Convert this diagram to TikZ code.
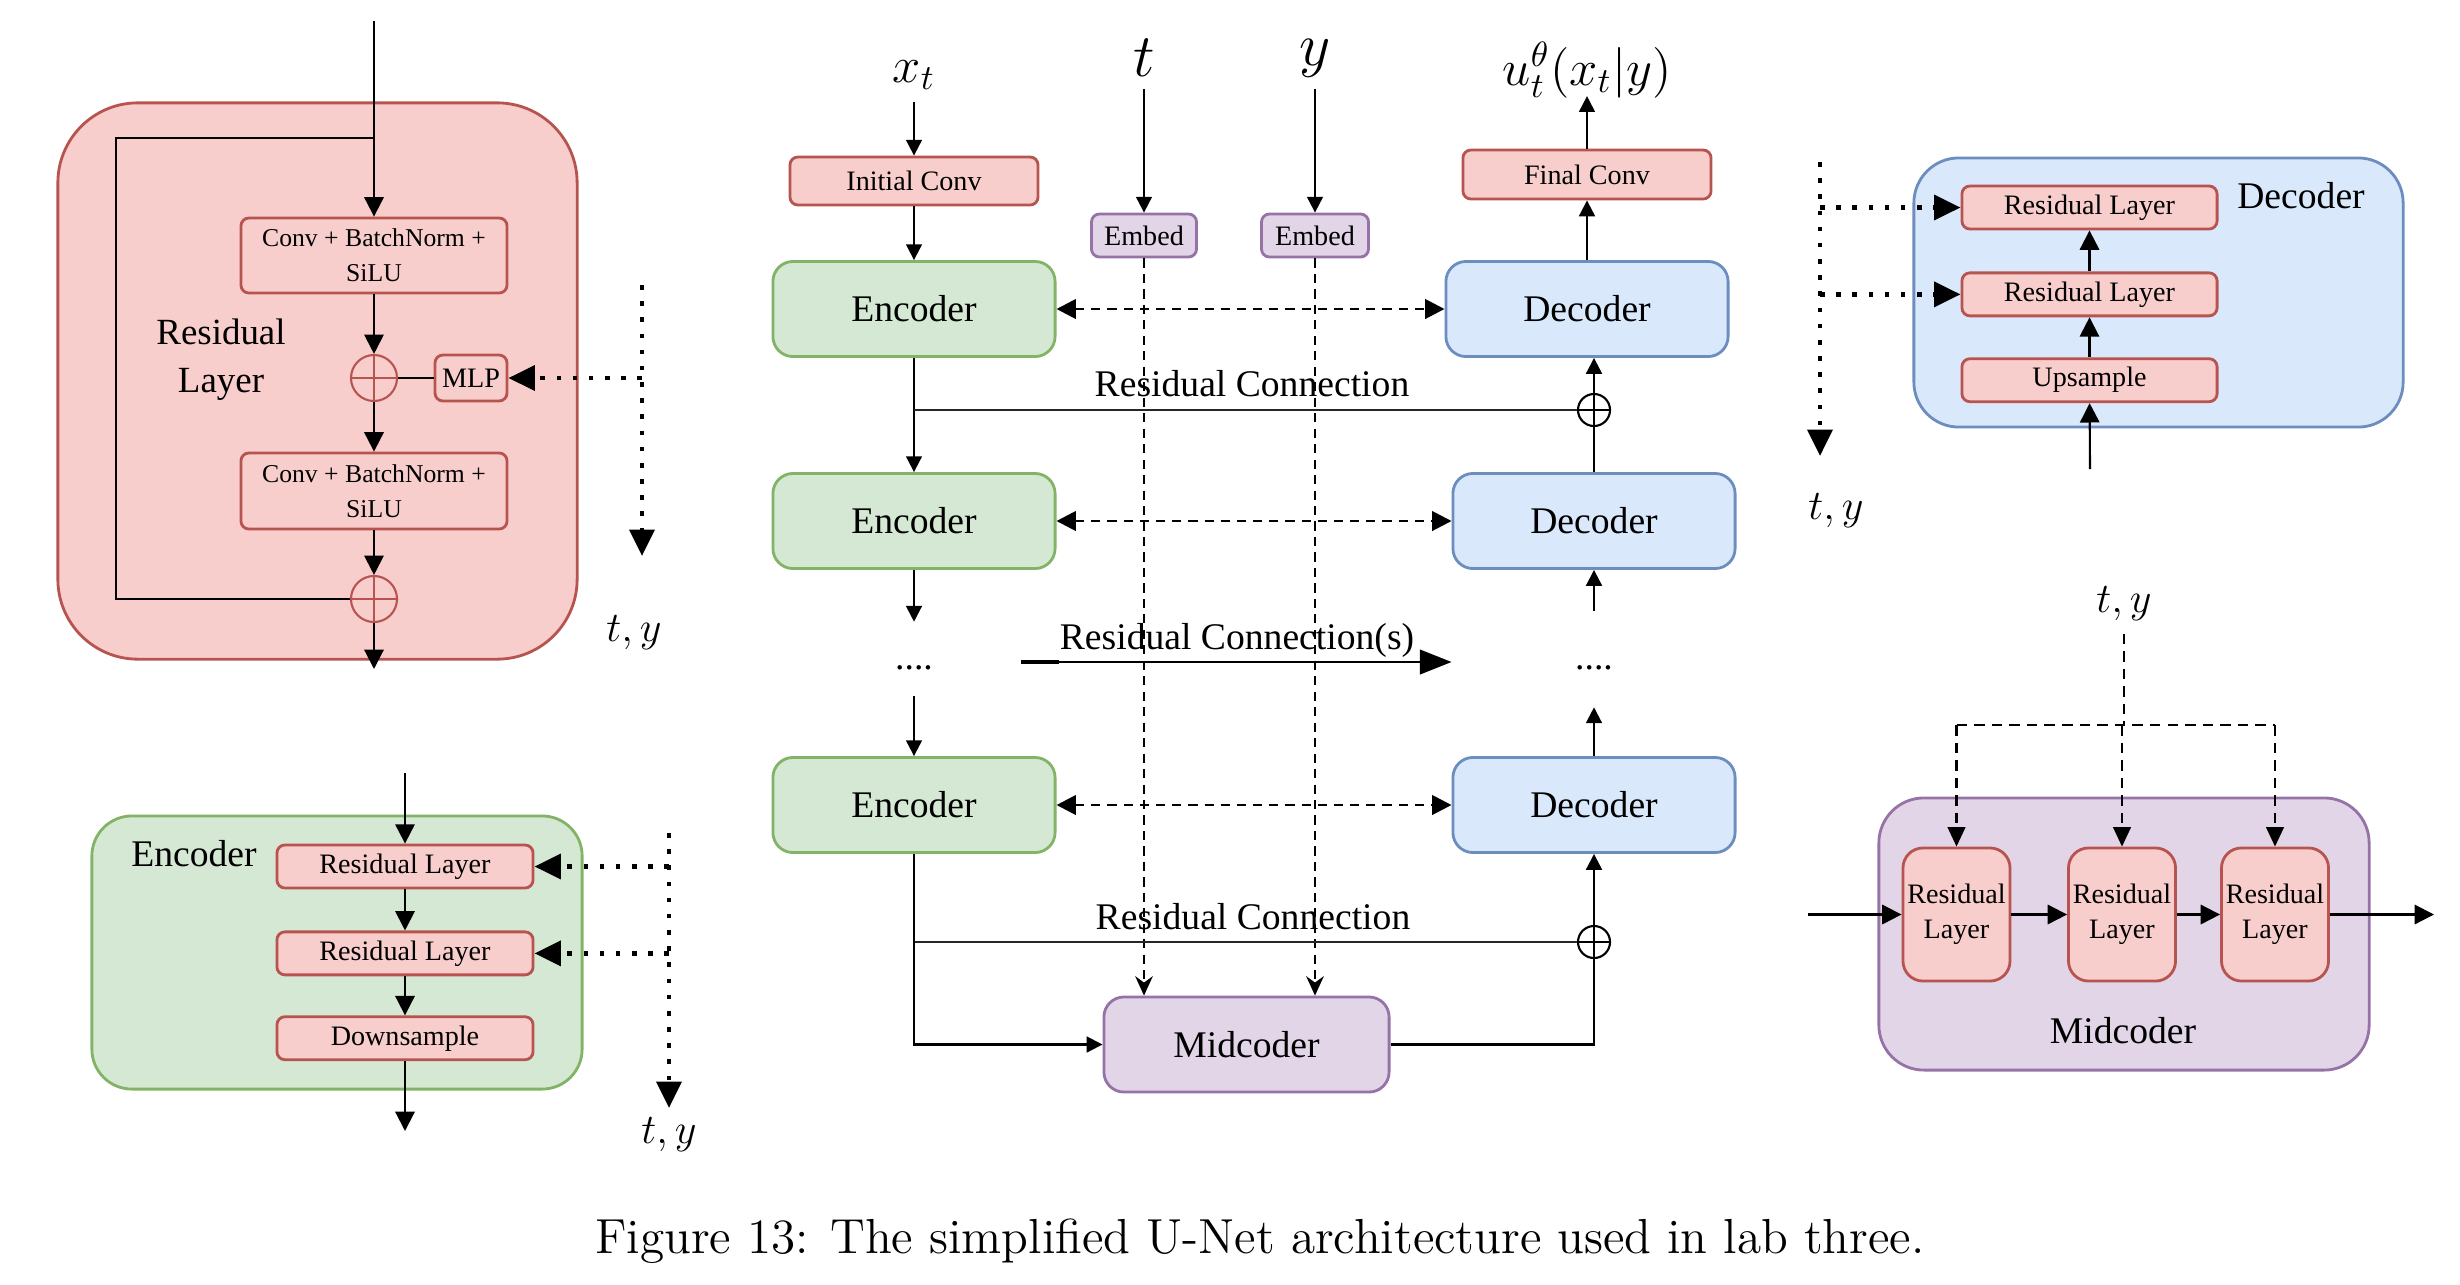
\documentclass[tikz,border=0pt]{standalone}
\usepackage{fontspec}
\newfontfamily\drawfont{Liberation Serif}
\usetikzlibrary{arrows.meta,positioning}
\definecolor{redfill}{HTML}{F8CECC}
\definecolor{redline}{HTML}{B85450}
\definecolor{greenfill}{HTML}{D5E8D4}
\definecolor{greenline}{HTML}{82B366}
\definecolor{bluefill}{HTML}{DAE8FC}
\definecolor{blueline}{HTML}{6C8EBF}
\definecolor{purplefill}{HTML}{E1D5E7}
\definecolor{purpleline}{HTML}{9673A6}
\tikzset{
    %Define standard arrow tip
    >={Triangle[length=4.5pt,width=4.5pt]},
    %Define style for the big blocks
    blok/.style={
           rectangle,
           rounded corners=0.2cm,
           line width=0.8pt,
           minimum width=2.82cm,
           minimum height=0.95cm,
           inner sep=0pt,
           font=\drawfont\fontsize{10.7}{12}\selectfont},
    encblok/.style={blok, draw=greenline, fill=greenfill},
    decblok/.style={blok, draw=blueline, fill=bluefill},
    midblok/.style={blok, draw=purpleline, fill=purplefill},
    %Define style for the small boxes
    lille/.style={
           rectangle,
           rounded corners=0.08cm,
           draw=redline, fill=redfill,
           line width=0.8pt,
           minimum height=0.43cm,
           inner sep=0pt,
           align=center,
           font=\drawfont\fontsize{8}{10}\selectfont},
    embedboks/.style={lille, draw=purpleline, fill=purplefill},
    %Define style for the panels
    panel/.style={
           rectangle,
           rounded corners=0.45cm,
           line width=0.8pt},
    %Define style for the sum circles
    sum/.style={
           circle,
           draw=#1,
           line width=0.6pt,
           inner sep=0pt,
           minimum size=0.32cm,
           path picture={\draw[#1, line width=0.6pt]
              (path picture bounding box.north) -- (path picture bounding box.south)
              (path picture bounding box.west) -- (path picture bounding box.east);}},
    sum/.default=black,
    % Define arrow styles
    pil/.style={->, line width=0.6pt},
    storpil/.style={-{Triangle[length=5.5pt,width=5.5pt]}, line width=0.6pt},
    resline/.style={line width=0.8pt, black!85},
    prik/.style={
           line width=1.3pt,
           dash pattern=on 1.3pt off 3.3pt,
           -{Triangle[length=7.5pt,width=7pt]}},
    stip/.style={
           line width=0.8pt,
           dash pattern=on 2.6pt off 2pt,
           {Triangle[length=5.5pt,width=5.5pt]}-{Triangle[length=5.5pt,width=5.5pt]}},
    embstip/.style={
           line width=0.6pt,
           dash pattern=on 2.6pt off 1.8pt,
           -{Stealth[length=5.5pt,width=5pt,inset=1.8pt]}},
    dsh/.style={line width=0.6pt, dash pattern=on 3pt off 2pt},
    lab/.style={align=center, font=\drawfont\fontsize{10.7}{13.6}\selectfont},
    symb/.style={font=\fontsize{12.5}{14}\selectfont}
}

\begin{document}
\begin{tikzpicture}[x=0.01cm, y=-0.01cm]
\useasboundingbox (0,0) rectangle (2460,1284);

%residual layer panel
\node[panel, draw=redline, fill=redfill, rounded corners=0.8cm, minimum width=5.19cm, minimum height=5.56cm] (respanel) at (317.5,381) {};
\node[lille, minimum width=2.66cm, minimum height=0.75cm, font=\drawfont\fontsize{7.3}{10}\selectfont] (conv1) at (374,255.5) {Conv + BatchNorm +\\SiLU};
\node[sum=redline, fill=redfill, minimum size=0.46cm] (sum1) at (374,378) {};
\node[lille, minimum width=0.72cm, minimum height=0.46cm] (mlp) at (471,378) {MLP};
\node[lille, minimum width=2.66cm, minimum height=0.76cm, font=\drawfont\fontsize{7.3}{10}\selectfont] (conv2) at (374,491) {Conv + BatchNorm +\\SiLU};
\node[sum=redline, fill=redfill, minimum size=0.46cm] (sum2) at (374,599) {};
\node[lab, font=\drawfont\fontsize{10.5}{13.6}\selectfont] (reslab) at (221,360) {Residual\\Layer};
\coordinate (resin) at (374,21);
\coordinate (skip) at (374,138);
\coordinate (resout) at (374,669);
\draw[storpil] (resin) -- (conv1);
\draw[line width=0.6pt] (skip) -- ++(-258,0) |- (sum2);
\draw[storpil] (conv1) -- (sum1);
\draw[line width=0.6pt] (sum1) -- (mlp);
\draw[storpil] (sum1) -- (conv2);
\draw[storpil] (conv2) -- (sum2);
\draw[storpil] (sum2) -- (resout);
%t, y into the MLP
\coordinate (ty1a) at (642,285);
\coordinate (ty1b) at (642,556);
\draw[prik] (ty1a) -- (ty1b);
\draw[prik] (ty1a |- mlp) -- (mlp);
\node[symb] (ty1) at (634,633) {$t, y$};

%encoder panel
\node[panel, draw=greenline, fill=greenfill, rounded corners=0.4cm, minimum width=4.9cm, minimum height=2.73cm] (encpanel) at (337,952.5) {};
\node[lille, minimum width=2.56cm] (erl1) at (405,866.5) {Residual Layer};
\node[lille, minimum width=2.56cm, below=0.41cm of erl1] (erl2) {Residual Layer};
\node[lille, minimum width=2.56cm, below=0.39cm of erl2] (downsamp) {Downsample};
\node[lab] (enclab) at (194,854) {Encoder};
\coordinate (encin) at (405,773);
\coordinate (encout) at (405,1131);
\draw[storpil] (encin) -- (erl1);
\draw[storpil] (erl1) -- (erl2);
\draw[storpil] (erl2) -- (downsamp);
\draw[storpil] (downsamp) -- (encout);
\coordinate (ty2a) at (669,833);
\coordinate (ty2b) at (669,1108);
\draw[prik] (ty2a) -- (ty2b);
\draw[prik] (ty2a |- erl1) -- (erl1);
\draw[prik] (ty2a |- erl2) -- (erl2);
\node[symb] (ty2) at (669,1135) {$t, y$};

%u-net inputs
\node[font=\fontsize{14}{16}\selectfont] (xt) at (914,75) {$x_t$};
\node[font=\fontsize{16.5}{18}\selectfont] (tlab) at (1144,58) {$t$};
\node[font=\fontsize{16.5}{18}\selectfont] (ylab) at (1315,58) {$y$};
\node[font=\fontsize{14.5}{16}\selectfont] (ulab) at (1587,70) {$u_t^\theta(x_t|y)$};
\node[lille, minimum width=2.48cm, minimum height=0.48cm] (initconv) at (914,181) {Initial Conv};
\node[embedboks, minimum width=1.05cm] (embt) at (1144,235.5) {Embed};
\node[embedboks, minimum width=1.07cm] (emby) at (1315,235.5) {Embed};
\node[lille, minimum width=2.48cm, minimum height=0.49cm] (finalconv) at (1587,174.5) {Final Conv};

%encoders and decoders
\node[encblok] (enc1) at (914,309) {Encoder};
\node[encblok] (enc2) at (914,521) {Encoder};
\node[lab] (encdots) at (914,668) {....};
\node[encblok] (enc3) at (914,805) {Encoder};
\node[decblok] (dec1) at (1587,309) {Decoder};
\node[decblok] (dec2) at (1594,521) {Decoder};
\node[lab] (decdots) at (1594,668) {....};
\node[decblok] (dec3) at (1594,805) {Decoder};
\node[midblok, minimum width=2.85cm] (midc) at (1246.5,1044.5) {Midcoder};
\node[sum] (add1) at (1594,410) {};
\node[sum] (add2) at (1594,942) {};

%embedding lines
\draw[embstip] (embt) -- (embt |- midc.north);
\draw[embstip] (emby) -- (emby |- midc.north);

\draw[pil] (xt) -- (initconv);
\draw[pil] (initconv) -- (enc1);
\draw[pil] (tlab) -- (embt);
\draw[pil] (ylab) -- (emby);
\draw[pil] (dec1) -- (finalconv);
\draw[pil, shorten >=-4pt] (finalconv) -- (ulab);
\draw[stip] (enc1) -- (dec1);
\draw[stip] (enc2) -- (dec2);
\draw[stip] (enc3) -- (dec3);
\draw[pil] (enc1) -- (enc2);
\draw[pil, shorten >=9pt] (enc2) -- (encdots);
\draw[pil, shorten <=3.7pt] (encdots) -- (enc3);
\draw[pil, shorten >=7pt] (dec3) -- (decdots);
\draw[pil, shorten <=12pt] (decdots) -- (dec2);
\draw[pil] (dec2) -- (add1) -- (add1 |- dec1.south);

%residual connections
\coordinate (res1) at (enc1 |- add1);
\draw[resline] (res1) -- (add1);
\node[lab] (res1lab) at (1252,384) {Residual Connection};
\coordinate (rcs) at (1021,662);
\draw[line width=1.3pt] (rcs) -- ++(38,0);
\draw[line width=0.6pt, -{Triangle[length=9pt,width=7pt]}] (rcs) -- (rcs -| dec2.west);
\node[lab] (rcslab) at (1237,640) {Residual Connection(s)};
\coordinate (res2) at (enc1 |- add2);
\draw[resline] (res2) -- (add2);
\node[lab] (res2lab) at (1253,917) {Residual Connection};
\draw[pil] (enc3) |- (midc);
\draw[pil] (midc) -| (add2) -- (dec3);

%decoder panel
\node[panel, draw=blueline, fill=bluefill, minimum width=4.89cm, minimum height=2.69cm] (decpanel) at (2158.5,292.5) {};
\node[lille, minimum width=2.55cm] (drl1) at (2089.5,207.5) {Residual Layer};
\node[lille, minimum width=2.55cm, below=0.41cm of drl1] (drl2) {Residual Layer};
\node[lille, minimum width=2.55cm, below=0.4cm of drl2] (upsamp) {Upsample};
\node[lab] (declab) at (2301,196) {Decoder};
\coordinate (decin) at (2090,469);
\draw[storpil] (decin) -- (upsamp);
\draw[storpil] (upsamp) -- (drl2);
\draw[storpil] (drl2) -- (drl1);
\coordinate (ty3a) at (1820,162);
\coordinate (ty3b) at (1820,456);
\draw[prik] (ty3a) -- (ty3b);
\draw[prik] (ty3a |- drl1) -- (drl1);
\draw[prik] (ty3a |- drl2) -- (drl2);
\node[symb] (ty3) at (1836,511) {$t, y$};

%midcoder panel
\node[panel, draw=purpleline, fill=purplefill, minimum width=4.9cm, minimum height=2.72cm] (midpanel) at (2124,934) {};
\node[lille, rounded corners=0.2cm, minimum width=1.07cm, minimum height=1.33cm] (mrl1) at (1956.5,914.5) {Residual\\Layer};
\node[lille, rounded corners=0.2cm, minimum width=1.07cm, minimum height=1.33cm] (mrl2) at (2122,914.5) {Residual\\Layer};
\node[lille, rounded corners=0.2cm, minimum width=1.07cm, minimum height=1.33cm] (mrl3) at (2275,914.5) {Residual\\Layer};
\node[lab] (midlab) at (2123,1031) {Midcoder};
\node[symb] (ty4) at (2124,604) {$t, y$};
\coordinate (midin) at (1808,914.5);
\coordinate (midout) at (2434,914.5);
\draw[storpil] (midin) -- (mrl1);
\draw[storpil] (mrl1) -- (mrl2);
\draw[storpil] (mrl2) -- (mrl3);
\draw[storpil] (mrl3) -- (midout);
\coordinate (split) at (2124,725);
\draw[dsh] (ty4) -- (split);
\draw[dsh] (mrl1 |- split) -- (mrl3 |- split);
\draw[dsh, -{Triangle[length=5.5pt,width=5pt]}] (mrl1 |- split) -- (mrl1);
\draw[dsh, -{Triangle[length=5.5pt,width=5pt]}] (mrl2 |- split) -- (mrl2);
\draw[dsh, -{Triangle[length=5.5pt,width=5pt]}] (mrl3 |- split) -- (mrl3);

%caption
\node[font=\fontsize{14}{16}\selectfont] (caption) at (1260,1241) {Figure 13: The simplified U-Net architecture used in lab three.};
\end{tikzpicture}
\end{document}
